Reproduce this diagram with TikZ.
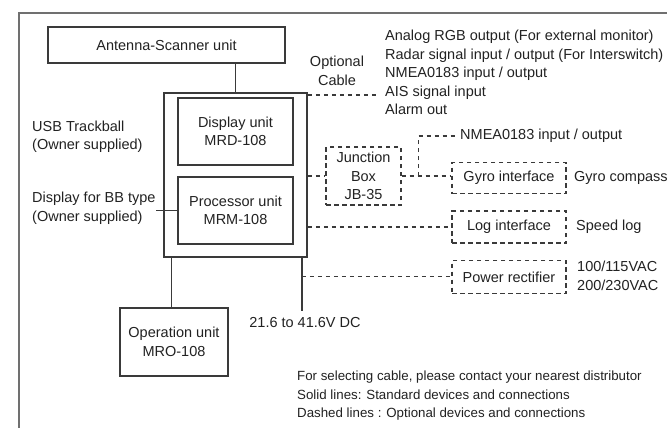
\documentclass[tikz,border=0pt]{standalone}
\usepackage{fontspec}
\setmainfont{Liberation Sans}
\usetikzlibrary{calc}
\definecolor{ln}{HTML}{3A3A3A}
\definecolor{fr}{HTML}{707070}
\definecolor{tx}{HTML}{222222}
\tikzset{
  unit/.style={draw=ln, line width=1.5pt, align=center, inner sep=0pt, text=tx},
  optbox/.style={draw=ln, line width=1.2pt, dash pattern=on 4.5pt off 3.5pt, align=center, inner sep=0pt, text=tx},
  sol/.style={draw=ln, line width=1.5pt},
  opt/.style={draw=ln, line width=1.2pt, dash pattern=on 4.5pt off 3.5pt},
  lbl/.style={inner sep=0pt, align=left, text=tx, anchor=west},
}
\begin{document}
\begin{tikzpicture}[x=1pt,y=-1pt,font=\fontsize{14.5}{18.5}\selectfont]
\useasboundingbox (0,0) rectangle (667,428);
\clip (0,0) rectangle (667,428);
\fill[white] (0,0) rectangle (667,428);
% outer frame
\draw[fr, line width=1.5pt] (19,13) rectangle (720,470);
% units
\node[unit, minimum width=237pt, minimum height=36pt] (ant) at (166.5,45) {Antenna-Scanner unit};
\node[unit, minimum width=143pt, minimum height=164pt] (main) at (235.5,175) {};
\node[unit, minimum width=115pt, minimum height=67pt] (disp) at (235.5,131.5) {Display unit\\MRD-108};
\node[unit, minimum width=115pt, minimum height=67pt] (proc) at (235.5,210.5) {Processor unit\\MRM-108};
\node[unit, minimum width=108pt, minimum height=68pt] (op) at (174,342) {Operation unit\\MRO-108};
% optional boxes
\node[optbox, minimum width=75pt, minimum height=58pt] (jb) at (363.5,176) {Junction\\Box\\JB-35};
\node[optbox, minimum width=114pt, minimum height=31pt] (gyro) at (509,178) {Gyro interface};
\node[optbox, minimum width=114pt, minimum height=32pt] (log) at (509,227) {Log interface};
\node[optbox, minimum width=114pt, minimum height=33pt] (pwr) at (509,277) {Power rectifier};
% labels
\node[inner sep=0pt, align=center, text=tx] (optc) at (337,71) {Optional\\Cable};
\node[lbl] (sig) at (385,72.5) {Analog RGB output (For external monitor)\\Radar signal input / output (For Interswitch)\\NMEA0183 input / output\\AIS signal input\\Alarm out};
\node[lbl] (usb) at (32,137) {USB Trackball\\(Owner supplied)};
\node[lbl] (bb) at (32,208) {Display for BB type\\(Owner supplied)};
\node[lbl] (nmea) at (460,136) {NMEA0183 input / output};
\node[lbl] (gc) at (574,178) {Gyro compass};
\node[lbl] (sl) at (576,227) {Speed log};
\node[lbl] (vac) at (577,276) {100/115VAC\\200/230VAC};
\node[inner sep=0pt, text=tx] (dc) at (305,323) {21.6 to 41.6V DC};
\node[lbl, font=\fontsize{13.3}{18.5}\selectfont] (note) at (297,396) {For selecting cable, please contact your nearest distributor\\Solid lines: Standard devices and connections\\Dashed lines : Optional devices and connections};
% coordinates
\coordinate (optend) at (378,95);
\coordinate (opx) at ($(main.south west)+(8,0)$);
\coordinate (dcx) at ($(main.south east)+(-6,0)$);
\coordinate (br) at ($(jb.east)+(17,0)$);
\coordinate (nmeaend) at ($(nmea.west)+(-3,0)$);
\coordinate (dctop) at ($(dc.north)+(0,-7)$);
% solid connectors
\draw[sol] (main.north) -- (main.north |- ant.south);
\draw[sol] (proc.west) -- (proc.west -| bb.east);
\draw[sol] (opx) -- (opx |- op.north);
\draw[sol] (dcx) -- (dcx |- dctop);
% dashed connectors
\draw[opt] (main.east |- optend) -- (optend);
\draw[opt] (main.east |- jb.west) -- (jb.west);
\draw[opt] (jb.east) -- (jb.east -| gyro.west);
\draw[opt] (br) |- (nmeaend);
\draw[opt] (main.east |- log.west) -- (log.west);
\draw[opt] ($(dcx)+(0,19)$) -- (pwr.west |- {$(dcx)+(0,19)$});
\end{tikzpicture}
\end{document}
